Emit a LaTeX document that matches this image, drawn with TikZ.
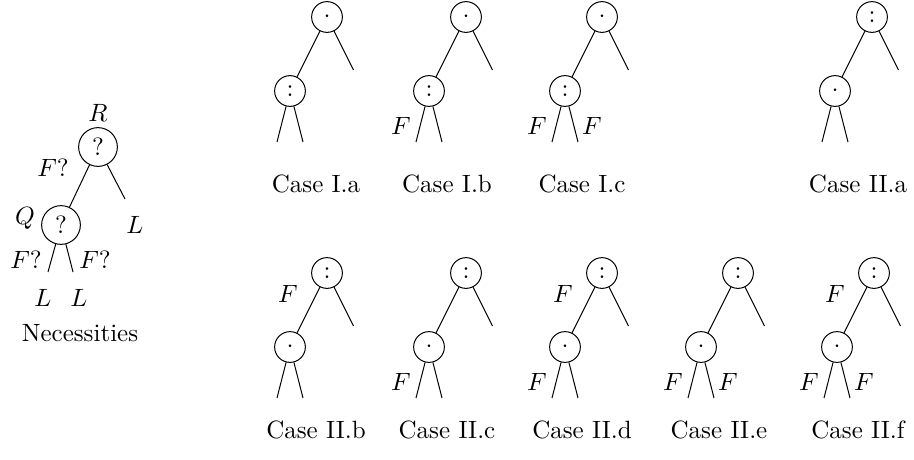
\documentclass[tikz,border=0pt]{standalone}
\begin{document}
\begin{tikzpicture}[x=0.4pt, y=-0.4pt,
  vert/.style={circle, draw, inner sep=0pt, minimum size=12.3pt},
  qvert/.style={circle, draw, inner sep=0pt, minimum size=15.5pt}]
\useasboundingbox (0,0) rectangle (914,460);

% necessities
\node[qvert] (r) at (98,147) {$?$};
\node[qvert] (q) at (61,225) {$?$};
\coordinate (rl) at (125,199);
\coordinate (ql) at (48,272);
\coordinate (qr) at (73,272);
\draw (r) -- (q);
\draw (r) -- (rl);
\draw (q) -- (ql);
\draw (q) -- (qr);

\node (lr) at (98,113) {$R$};
\node (lq) at (25,218) {$Q$};
\node (fr) at (53,168) {$F?$};
\node (fql) at (26,260) {$F?$};
\node (fqr) at (95,260) {$F?$};
\node (lrl) at (135,225) {$L$};
\node (lql) at (43,298) {$L$};
\node (lqr) at (79,298) {$L$};
\node[anchor=base] (capn) at (80,341) {Necessities};

% the cases
\foreach \n/\x/\y/\s/\t in {ia/327/17/\cdot/:, ib/466/17/\cdot/:, ic/602/17/\cdot/:,
    iia/872/17/:/\cdot, iib/327/273/:/\cdot, iic/466/273/:/\cdot,
    iid/602/273/:/\cdot, iie/738/273/:/\cdot, iif/874/273/:/\cdot} {
  \node[vert] (\n) at (\x,\y) {$\s$};
  \node[vert] (\n-c) at (\x-37,\y+74) {$\t$};
  \coordinate (\n-r) at (\x+26.5,\y+53);
  \coordinate (\n-l) at (\x-50,\y+125);
  \coordinate (\n-m) at (\x-24,\y+125);
  \draw (\n) -- (\n-c);
  \draw (\n) -- (\n-r);
  \draw (\n-c) -- (\n-l);
  \draw (\n-c) -- (\n-m);
}

\node (fib) at (401,126) {$F$};
\node (ficl) at (537,126) {$F$};
\node (ficr) at (592,126) {$F$};
\node (fiib) at (288,294) {$F$};
\node (fiic) at (401,382) {$F$};
\node (fiidt) at (563,294) {$F$};
\node (fiidl) at (537,382) {$F$};
\node (fiiel) at (673,382) {$F$};
\node (fiier) at (728,382) {$F$};
\node (fiift) at (835,294) {$F$};
\node (fiifl) at (809,382) {$F$};
\node (fiifr) at (864,382) {$F$};

\node[anchor=base] (capia) at (316,192) {Case I.a};
\node[anchor=base] (capib) at (447,192) {Case I.b};
\node[anchor=base] (capic) at (582,192) {Case I.c};
\node[anchor=base] (capiia) at (858,192) {Case II.a};
\node[anchor=base] (capiib) at (316,438) {Case II.b};
\node[anchor=base] (capiic) at (447,438) {Case II.c};
\node[anchor=base] (capiid) at (582,438) {Case II.d};
\node[anchor=base] (capiie) at (719,438) {Case II.e};
\node[anchor=base] (capiif) at (858,438) {Case II.f};
\end{tikzpicture}
\end{document}
